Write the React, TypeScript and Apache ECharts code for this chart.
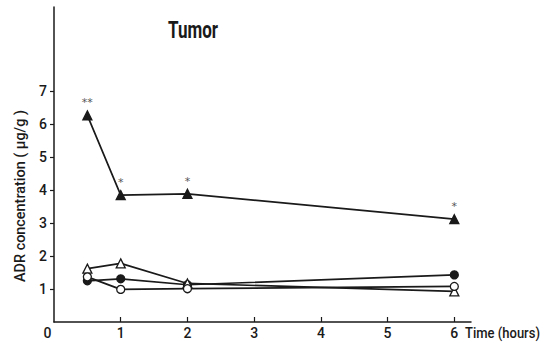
import React, { useEffect, useRef } from "react";
import * as echarts from "echarts";

// Sampling times (hours after administration)
const hours = [0.5, 1, 2, 6];
// ADR concentration in tumour tissue (µg/g) per treatment group
const filledTriangle = [6.27, 3.85, 3.89, 3.12];
const openTriangle = [1.62, 1.78, 1.17, 0.93];
const filledCircle = [1.25, 1.31, 1.13, 1.43];
const openCircle = [1.37, 0.99, 1.01, 1.08];
// Significance marks shown above the filled-triangle group
const significance = ["**", "*", "*", "*"];

const xTicks = [1, 2, 3, 4, 5, 6];
const yTicks = [1, 2, 3, 4, 5, 6, 7];

const FONT = "Roboto, sans-serif";
const INK = "#1a1a1a";

// Horizontal squeeze factor so a string set in Roboto takes a given width,
// giving the narrow lettering of the figure.
const squeeze = (text: string, size: number, weight: string, width: number) => {
  const ctx = document.createElement("canvas").getContext("2d");
  if (!ctx) return 1;
  ctx.font = `${weight} ${size}px Roboto`;
  const w = ctx.measureText(text).width;
  return w > 0 ? width / w : 1;
};

const pairs = (ys: number[]) => hours.map((h, i) => [h, ys[i]]);

const lineSeries = (
  name: string,
  ys: number[],
  symbol: string,
  filled: boolean,
  size: number
) => ({
  name,
  type: "line",
  data: pairs(ys),
  symbol,
  symbolSize: size,
  lineStyle: { color: INK, width: 1.7 },
  itemStyle: {
    color: filled ? INK : "#ffffff",
    borderColor: INK,
    borderWidth: 1.3,
  },
  z: filled ? 3 : 4,
});

export default function App() {
  const ref = useRef<HTMLDivElement>(null);

  useEffect(() => {
    document.body.style.margin = "0";
    if (!ref.current) return;
    const chart = echarts.init(ref.current, null, { renderer: "svg" });

    const title = "Tumor";
    const yName = "ADR concentration ( μg/g )";
    const xName = "Time (hours)";

    chart.setOption({
      animation: false,
      backgroundColor: "#ffffff",
      grid: { left: 54, right: 77, top: 7, bottom: 21 },
      xAxis: {
        type: "value",
        min: 0,
        max: 6.25,
        interval: 1,
        axisLine: { lineStyle: { color: INK, width: 1.5 } },
        axisTick: {
          inside: true,
          length: 5,
          customValues: xTicks,
          lineStyle: { color: INK, width: 1.2 },
        },
        axisLabel: {
          customValues: xTicks,
          fontFamily: FONT,
          fontSize: 14,
          fontWeight: 500,
          color: INK,
          margin: 4,
        },
        splitLine: { show: false },
      },
      yAxis: {
        type: "value",
        min: 0,
        max: 9.56,
        interval: 1,
        axisLine: { show: true, lineStyle: { color: INK, width: 1.5 } },
        axisTick: {
          show: true,
          length: 4,
          customValues: yTicks,
          lineStyle: { color: INK, width: 1.2 },
        },
        axisLabel: {
          customValues: yTicks,
          fontFamily: FONT,
          fontSize: 14,
          fontWeight: 500,
          color: INK,
          margin: 7,
        },
        splitLine: { show: false },
      },
      graphic: [
        {
          type: "text",
          x: 193,
          y: 30,
          scaleX: squeeze(title, 23, "bold", 50),
          style: {
            text: title,
            fontFamily: FONT,
            fontSize: 23,
            fontWeight: "bold",
            fill: INK,
            align: "center",
            verticalAlign: "middle",
          },
        },
        {
          type: "text",
          x: 19.5,
          y: 196,
          rotation: Math.PI / 2,
          scaleX: squeeze(yName, 15, "500", 172),
          style: {
            text: yName,
            fontFamily: FONT,
            fontSize: 15,
            fontWeight: 500,
            fill: INK,
            align: "center",
            verticalAlign: "middle",
          },
        },
        {
          type: "text",
          x: 465,
          y: 333,
          scaleX: squeeze(xName, 15, "500", 75),
          style: {
            text: xName,
            fontFamily: FONT,
            fontSize: 15,
            fontWeight: 500,
            fill: INK,
            align: "left",
            verticalAlign: "middle",
          },
        },
        {
          type: "text",
          x: 47.5,
          y: 333,
          style: {
            text: "0",
            fontFamily: FONT,
            fontSize: 14,
            fontWeight: 500,
            fill: INK,
            align: "center",
            verticalAlign: "middle",
          },
        },
      ],
      series: [
        {
          ...lineSeries("filled triangle", filledTriangle, "triangle", true, 9),
          label: {
            show: true,
            position: "top",
            distance: 2,
            formatter: (p: any) => significance[p.dataIndex],
            fontFamily: "DejaVu Sans",
            fontSize: 11,
            color: "#555555",
          },
        },
        lineSeries("open triangle", openTriangle, "triangle", false, 9),
        lineSeries("filled circle", filledCircle, "circle", true, 8),
        lineSeries("open circle", openCircle, "circle", false, 8),
      ],
    });
    return () => chart.dispose();
  }, []);

  return <div ref={ref} style={{ width: 548, height: 343 }} />;
}
